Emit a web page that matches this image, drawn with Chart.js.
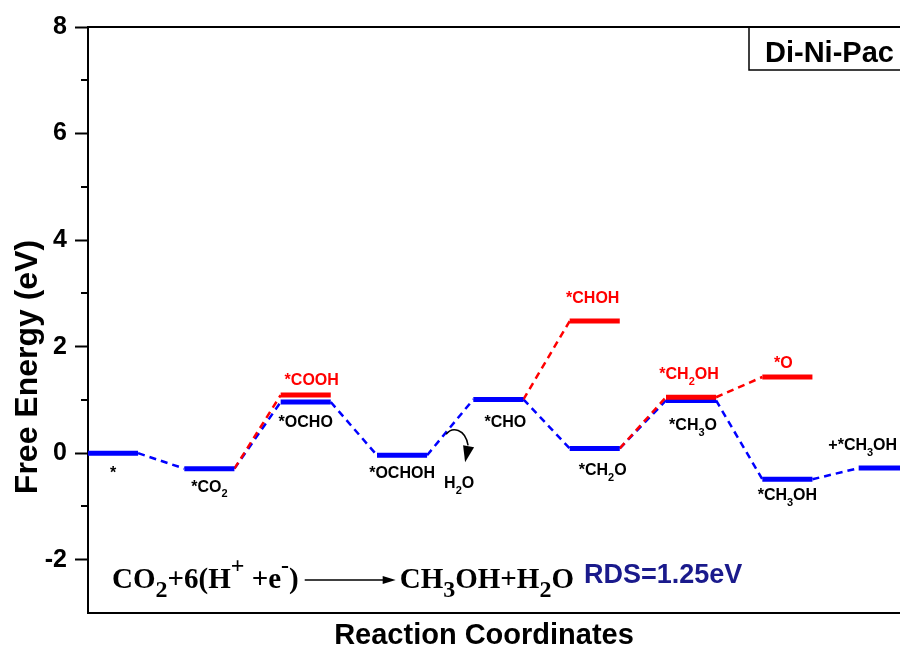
<!DOCTYPE html>
<html>
<head>
<meta charset="utf-8">
<script src="https://cdn.jsdelivr.net/npm/chart.js@4.4.1/dist/chart.umd.min.js"></script>
<style>
  html, body { margin: 0; padding: 0; background: #fff; overflow: hidden; }
  #wrap { width: 960px; height: 648px; position: relative; }
</style>
</head>
<body>
<div id="wrap"><canvas id="energyChart"></canvas></div>
<script>
// caminho principal (azul): intermediários e energias livres (eV)
const steps = ['*', '*CO_2', '*OCHO', '*OCHOH', '*CHO', '*CH_2O', '*CH_3O', '*CH_3OH', '+*CH_3OH'];
const blueEnergy = [0.00, -0.29, 0.96, -0.04, 1.01, 0.09, 0.99, -0.49, -0.28];

// caminho alternativo (vermelho)
const redNames = ['*COOH', '*CHOH', '*CH_2OH', '*O'];
const redSteps = [2, 5, 6, 7];
const redEnergy = [1.09, 2.48, 1.05, 1.43];
const redParent = ['*CO_2', '*CHO', '*CH_2O', '*CH_2OH'];

const yTicks = [-2, 0, 2, 4, 6, 8];
const yMinor = [-1, 1, 3, 5, 7];

const LEVEL_W = 0.52;
const BLUE = '#0000ff';
const RED = '#ff0000';
const SANS = '"Liberation Sans", Arial, sans-serif';
const SERIF = '"Liberation Serif", "Times New Roman", serif';

// deslocamentos (px) dos rótulos em relação ao centro do nível
const blueLabelPos = [[0, 25], [0, 23], [0, 25], [0, 23], [7, 28], [8, 27], [2, 30], [0, 21], [-21, -18]];
const redLabelPos = [[6, -10], [-2, -18], [-2, -18], [-4, -9]];

const blueX = steps.map((_, i) => i);

function levelPoints(xs, ys) {
    const pts = [];
    xs.forEach((x, i) => {
        pts.push({ x: x, y: ys[i] }, { x: x + LEVEL_W, y: ys[i] }, { x: x + LEVEL_W, y: null });
    });
    return pts;
}

function findLevel(name) {
    const b = steps.indexOf(name);
    if (b >= 0) return { x: blueX[b], y: blueEnergy[b] };
    const r = redNames.indexOf(name);
    return { x: redSteps[r], y: redEnergy[r] };
}

const blueLinks = [];
for (let i = 0; i < steps.length - 1; i++) {
    blueLinks.push({ x: blueX[i] + LEVEL_W, y: blueEnergy[i] }, { x: blueX[i + 1], y: blueEnergy[i + 1] }, { x: blueX[i + 1], y: null });
}

const redLinks = [];
redNames.forEach((_, j) => {
    const p = findLevel(redParent[j]);
    redLinks.push({ x: p.x + LEVEL_W, y: p.y }, { x: redSteps[j], y: redEnergy[j] }, { x: redSteps[j], y: null });
});

// texto com subscritos (_x) e sobrescritos (^x)
function drawChem(ctx, str, x, y, opt) {
    const size = opt.size;
    const family = opt.family || SANS;
    const subSize = opt.subSize || Math.round(size * 0.7);
    const subDy = opt.subDy !== undefined ? opt.subDy : size * 0.35;
    const supDy = opt.supDy !== undefined ? opt.supDy : -size * 0.45;
    const align = opt.align || 'center';
    const runs = [];
    for (let i = 0; i < str.length; i++) {
        const c = str[i];
        if ((c === '_' || c === '^') && i + 1 < str.length) {
            runs.push({ t: str[i + 1], k: c });
            i++;
        } else if (runs.length && runs[runs.length - 1].k === '') {
            runs[runs.length - 1].t += c;
        } else {
            runs.push({ t: c, k: '' });
        }
    }
    const fontOf = r => `bold ${r.k ? subSize : size}px ${family}`;
    let total = 0;
    runs.forEach(r => { ctx.font = fontOf(r); r.w = ctx.measureText(r.t).width; total += r.w; });
    let cx = align === 'center' ? x - total / 2 : (align === 'right' ? x - total : x);
    ctx.fillStyle = opt.color || '#000';
    ctx.textAlign = 'left';
    ctx.textBaseline = 'alphabetic';
    runs.forEach(r => {
        ctx.font = fontOf(r);
        const dy = r.k === '_' ? subDy : (r.k === '^' ? supDy : 0);
        ctx.fillText(r.t, cx, y + dy);
        cx += r.w;
    });
    return total;
}

const decorPlugin = {
    id: 'decor',
    afterDraw(chart) {
        const ctx = chart.ctx;
        const a = chart.chartArea;
        const xs = chart.scales.x;
        const ys = chart.scales.y;
        ctx.save();

        // moldura
        ctx.strokeStyle = '#000';
        ctx.lineWidth = 2;
        ctx.beginPath();
        ctx.moveTo(a.left - 1, a.top); ctx.lineTo(a.right, a.top);
        ctx.moveTo(a.left - 1, a.bottom); ctx.lineTo(a.right, a.bottom);
        ctx.stroke();

        // ticks menores
        ctx.beginPath();
        yMinor.forEach(v => {
            const py = Math.round(ys.getPixelForValue(v));
            ctx.moveTo(a.left - 7, py); ctx.lineTo(a.left, py);
        });
        ctx.stroke();

        // rótulos azuis
        steps.forEach((name, i) => {
            const px = xs.getPixelForValue(blueX[i] + LEVEL_W / 2) + blueLabelPos[i][0];
            const py = ys.getPixelForValue(blueEnergy[i]) + blueLabelPos[i][1];
            drawChem(ctx, name, px, py, { size: 16, color: '#000' });
        });

        // rótulos vermelhos
        redNames.forEach((name, j) => {
            const px = xs.getPixelForValue(redSteps[j] + LEVEL_W / 2) + redLabelPos[j][0];
            const py = ys.getPixelForValue(redEnergy[j]) + redLabelPos[j][1];
            drawChem(ctx, name, px, py, { size: 16, color: RED });
        });

        // seta curva + H2O
        const ax = xs.getPixelForValue(blueX[3] + LEVEL_W);
        const ay = ys.getPixelForValue(blueEnergy[3]);
        ctx.strokeStyle = '#000';
        ctx.lineWidth = 1.5;
        ctx.beginPath();
        ctx.moveTo(ax + 19, ay - 21);
        ctx.bezierCurveTo(ax + 25, ay - 29, ax + 38, ay - 27, ax + 41, ay - 10);
        ctx.stroke();
        ctx.fillStyle = '#000';
        ctx.beginPath();
        ctx.moveTo(ax + 36, ay - 10);
        ctx.lineTo(ax + 47, ay - 8);
        ctx.lineTo(ax + 38, ay + 7);
        ctx.closePath();
        ctx.fill();
        drawChem(ctx, 'H_2O', ax + 17, ay + 33, { size: 16, align: 'left' });

        // equação
        const eqOpt = { size: 29, family: SERIF, subSize: 24, subDy: 9, supDy: -15, align: 'left' };
        const w1 = drawChem(ctx, 'CO_2+6(H^+ +e^-)', 112, 588, eqOpt);
        const x0 = 112 + w1 + 6;
        const x1 = x0 + 91;
        ctx.strokeStyle = '#000';
        ctx.lineWidth = 1.5;
        ctx.beginPath();
        ctx.moveTo(x0, 580); ctx.lineTo(x1 - 10, 580);
        ctx.stroke();
        ctx.beginPath();
        ctx.moveTo(x1, 580); ctx.lineTo(x1 - 13, 576); ctx.lineTo(x1 - 13, 584);
        ctx.closePath();
        ctx.fill();
        drawChem(ctx, 'CH_3OH+H_2O', x1 + 4, 588, eqOpt);

        ctx.fillStyle = '#1a1a8c';
        ctx.font = `bold 27px ${SANS}`;
        ctx.textAlign = 'left';
        ctx.textBaseline = 'alphabetic';
        ctx.fillText('RDS=1.25eV', 584, 583);

        // caixa do título
        ctx.strokeStyle = '#000';
        ctx.lineWidth = 1.5;
        ctx.strokeRect(749, a.top, a.right - 749 + 20, 43);
        ctx.fillStyle = '#000';
        ctx.font = `bold 29px ${SANS}`;
        ctx.fillText('Di-Ni-Pac', 765, 62);

        // títulos dos eixos
        ctx.font = `bold 29px ${SANS}`;
        ctx.textAlign = 'center';
        ctx.fillText('Reaction Coordinates', 484, 644);

        ctx.translate(37, 367);
        ctx.rotate(-Math.PI / 2);
        ctx.font = `bold 32px ${SANS}`;
        ctx.fillText('Free Energy (eV)', 0, 0);

        ctx.restore();
    }
};

new Chart(document.getElementById('energyChart'), {
    type: 'line',
    data: {
        datasets: [
            { data: levelPoints(redSteps, redEnergy), borderColor: RED, borderWidth: 5, order: 0 },
            { data: levelPoints(blueX, blueEnergy), borderColor: BLUE, borderWidth: 5, order: 1 },
            { data: redLinks, borderColor: RED, borderWidth: 2.5, borderDash: [7, 5], order: 2 },
            { data: blueLinks, borderColor: BLUE, borderWidth: 2.5, borderDash: [7, 5], order: 3 }
        ]
    },
    options: {
        responsive: true,
        maintainAspectRatio: false,
        animation: false,
        spanGaps: false,
        elements: {
            point: { radius: 0, hoverRadius: 0 },
            line: { tension: 0, borderCapStyle: 'butt', fill: false }
        },
        layout: { padding: { top: 27, right: 5, bottom: 35, left: 0 } },
        plugins: {
            legend: { display: false },
            tooltip: { enabled: false }
        },
        scales: {
            x: { type: 'linear', min: 0, max: 9, display: false },
            y: {
                min: -3,
                max: 8,
                afterFit: (scale) => { scale.width = 88; },
                afterBuildTicks: (scale) => { scale.ticks = yTicks.map(v => ({ value: v })); },
                ticks: {
                    color: '#000',
                    padding: 8,
                    font: { family: SANS, size: 25, weight: 'bold' }
                },
                grid: { drawOnChartArea: false, tickLength: 13, tickWidth: 2, tickColor: '#000' },
                border: { display: true, color: '#000', width: 2 }
            }
        }
    },
    plugins: [decorPlugin]
});
</script>
</body>
</html>
